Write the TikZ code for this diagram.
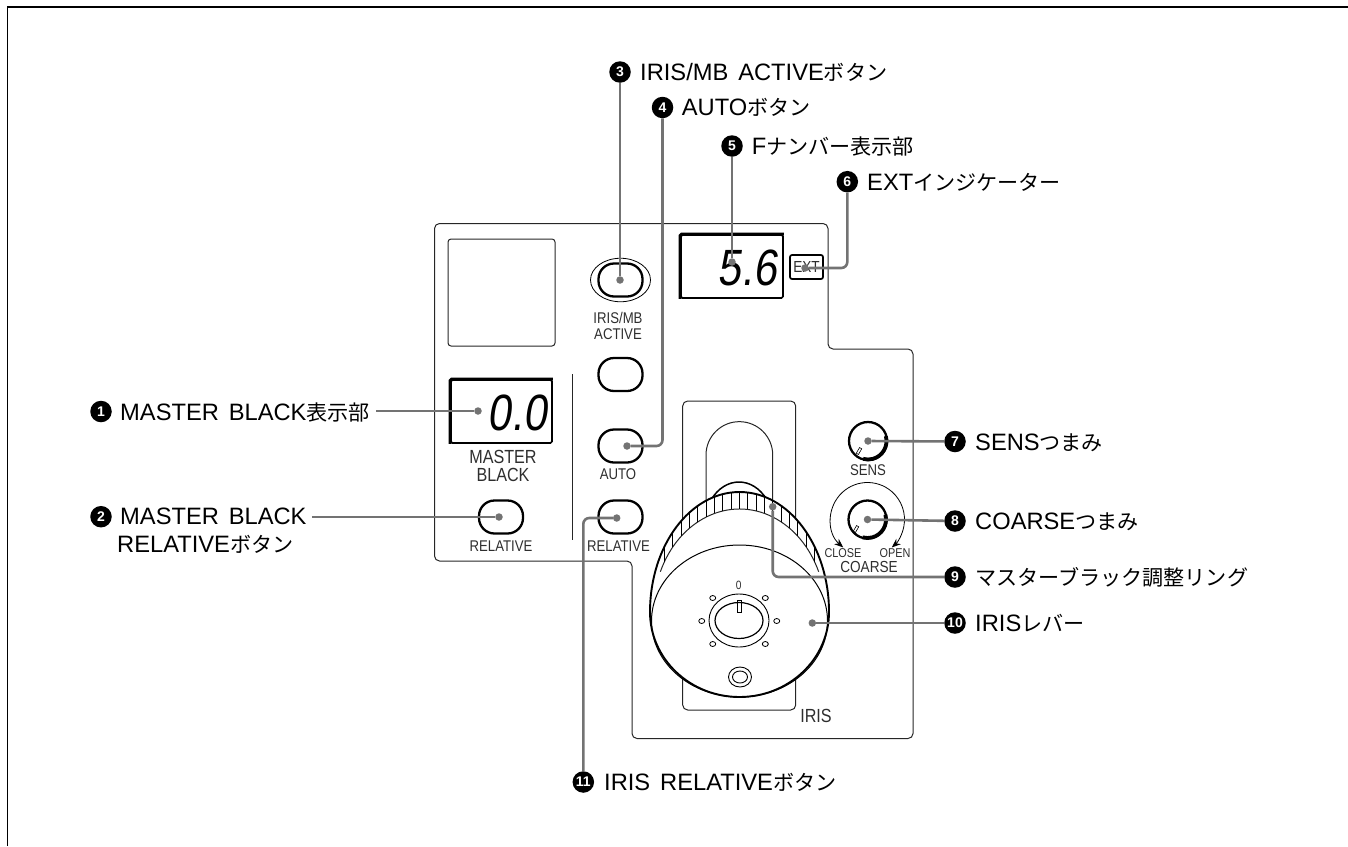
\documentclass[tikz,border=0pt]{standalone}
\usepackage{fontspec}
\setmainfont[WordSpace=1.5]{Liberation Sans}
\newfontfamily\cjk[Scale=0.89]{Noto Sans CJK JP}
\newfontfamily\panelfont[FakeStretch=0.85]{Liberation Sans}
\newfontfamily\lcdfont[FakeStretch=0.83,FakeSlant=0.14]{Liberation Sans}
\newcommand{\jp}[1]{{\cjk #1}}
\usetikzlibrary{arrows.meta,shapes.geometric}
\definecolor{leadgray}{HTML}{737373}
\definecolor{paneltext}{HTML}{2E2E2E}
\tikzset{
  panelline/.style={line width=1pt,black!85},
  pushbtn/.style={draw,rectangle,rounded corners=15.5pt,minimum width=44pt,minimum height=33pt,inner sep=0pt,line width=2.3pt},
  lcdframe/.style={draw,rectangle,rounded corners=1.5pt,inner sep=0pt,line width=1.7pt},
  lcdtext/.style={inner sep=0pt,anchor=base east,font=\lcdfont\fontsize{51}{51}\selectfont},
  paneltxt/.style={inner sep=0pt,align=center,text=paneltext,font=\panelfont\fontsize{15.5}{16.5}\selectfont},
  bigtxt/.style={paneltxt,font=\panelfont\fontsize{19}{18.5}\selectfont},
  tinytxt/.style={paneltxt,font=\panelfont\fontsize{12.8}{14}\selectfont},
  knobring/.style={draw,circle,minimum size=38pt,inner sep=0pt,line width=2.3pt},
  knobmark/.style={draw,rectangle,minimum width=2.5pt,minimum height=6.5pt,inner sep=0pt,line width=.6pt,rotate=-30},
  numcirc/.style={circle,fill=black,text=white,minimum size=21.5pt,inner sep=0pt,font=\bfseries\fontsize{14}{14}\selectfont},
  numlabel/.style={inner sep=0pt,anchor=base west,font=\fontsize{23.7}{27.7}\selectfont},
  leadline/.style={draw=leadgray,line width=2.6pt},
  leaddot/.style={circle,fill=leadgray,minimum size=7.5pt,inner sep=0pt},
  holedot/.style={draw,ellipse,minimum width=6pt,minimum height=5pt,inner sep=0pt,line width=.8pt},
}
\begin{document}
\begin{tikzpicture}[x=1pt,y=-1pt]
\useasboundingbox (0,0) rectangle (1348,846);
\draw [line width=1.6pt] (7.5,846) -- (7.5,7) -- (1348,7);

\draw [panelline,rounded corners=5pt] (434.5,223.5) -- (828,223.5) -- (828,349) -- (913,349) -- (913,738.5) -- (632,738.5) -- (632,561) -- (434.5,561) -- cycle;
\draw [panelline,rounded corners=3pt] (448,239) rectangle (555,346);
\draw [panelline] (572.5,374) -- (572.5,540);

\node (ringactive) [draw,ellipse,minimum width=60pt,minimum height=43.5pt,inner sep=0pt,line width=.8pt] at (620.5,280) {};
\node (btnactive) [pushbtn] at (620.5,280) {};
\node (btnblank) [pushbtn] at (620.5,374.5) {};
\node (btnauto) [pushbtn] at (620.5,446) {};
\node (btnrelative) [pushbtn] at (620.5,517) {};
\node (btnmaster) [pushbtn] at (501,517) {};
\node (txtactive) [paneltxt] at (618,326) {IRIS/MB\\ACTIVE};
\node (txtauto) [paneltxt] at (618,474) {AUTO};
\node (txtrelative) [paneltxt] at (618.5,546) {RELATIVE};
\node (txtmasterrel) [paneltxt] at (501,546) {RELATIVE};
\node (txtmaster) [bigtxt] at (503,466) {MASTER\\BLACK};

\node (lcdmaster) [lcdframe,minimum width=101pt,minimum height=63pt] at (501.5,411.5) {};
\draw [line width=3pt,rounded corners=1.5pt] (lcdmaster.south west) |- (lcdmaster.north east);
\node (lcdmastertxt) [lcdtext] at (547,430) {0.0};
\node (lcdiris) [lcdframe,minimum width=102pt,minimum height=63pt] at (732,266.5) {};
\draw [line width=3pt,rounded corners=1.5pt] (lcdiris.south west) |- (lcdiris.north east);
\node (lcdiristxt) [lcdtext] at (777,285.5) {5.6};
\node (extbox) [draw,rectangle,rounded corners=2pt,minimum width=33pt,minimum height=24pt,inner sep=0pt,line width=1.7pt,text=paneltext,font=\panelfont\fontsize{16}{16}\selectfont] at (806.5,267) {EXT};

\node (knobsens) [knobring] at (868,441) {};
\draw [line width=3.8pt] (868,441) ++(-15:18.5) arc[start angle=-15,end angle=105,radius=18.5];
\node (marksens) [knobmark] at (859,451) {};
\node (txtsens) [paneltxt] at (868,470) {SENS};
\draw [line width=.8pt,{Stealth[length=9pt,width=7pt]}-{Stealth[length=9pt,width=7pt]}] (867.5,519.5) ++(131:37) arc[start angle=131,end angle=409,radius=37];
\node (knobcoarse) [knobring] at (867.5,519.5) {};
\draw [line width=3.8pt] (867.5,519.5) ++(-15:18.5) arc[start angle=-15,end angle=105,radius=18.5];
\node (markcoarse) [knobmark] at (856,529) {};
\node (txtclose) [tinytxt] at (843,553) {CLOSE};
\node (txtopen) [tinytxt] at (895,553) {OPEN};
\node (txtcoarse) [paneltxt,font=\panelfont\fontsize{16}{16}\selectfont] at (869,567) {COARSE};

\draw [panelline,rounded corners=5pt] (682.7,401) rectangle (795.7,710);
\draw [panelline] (706,500) -- (706,455) arc[start angle=180,end angle=360,radius=33.35] -- (772.7,500);
\draw [line width=1.5pt] (711,500) .. controls (725,476) and (753,476) .. (767,500);
\draw [fill=white,line width=1.9pt] (650,612) arc[start angle=180,end angle=360,x radius=89.5,y radius=120] arc[start angle=0,end angle=180,x radius=89.5,y radius=85];
\draw [panelline] (739.5,612) ++(203:86 and 103) arc[start angle=203,end angle=337,x radius=86,y radius=103];
\foreach \k in {-9,...,9}{
  \pgfmathsetmacro{\tickx}{739.3+\k*8.33}
  \pgfmathsetmacro{\ticktop}{612-120*sqrt(1-(\k*8.33/89.5)^2)}
  \pgfmathsetmacro{\tickbot}{612-103*sqrt(1-(\k*8.33/86)^2)}
  \draw [line width=.8pt] (\tickx,\ticktop) -- (\tickx,\tickbot);
}
\draw [line width=1pt] (739.5,621) ellipse[x radius=88,y radius=76];
\draw [line width=.9pt] (739,620.5) ellipse[x radius=30,y radius=26.5];
\draw [line width=1.2pt] (739,620.5) ellipse[x radius=24,y radius=18];
\draw [line width=.8pt] (737.3,600.7) rectangle (741.7,612.3);
\node (holea) [holedot] at (712.7,598) {};
\node (holeb) [holedot] at (765.3,598) {};
\node (holec) [holedot] at (701.7,621) {};
\node (holed) [holedot] at (776.7,621) {};
\node (holee) [holedot] at (712.7,644) {};
\node (holef) [holedot] at (765.3,644) {};
\node (txtzero) [paneltxt,font=\panelfont\fontsize{12}{12}\selectfont] at (738.7,585.7) {0};
\draw [line width=.9pt] (740,677) ellipse[x radius=11.5,y radius=10];
\draw [line width=.9pt] (740,677) ellipse[x radius=7.5,y radius=6];
\node (txtiris) [bigtxt] at (816,716) {IRIS};

\node (numone) [numcirc] at (101,411.5) {1};
\node (labone) [numlabel] at (120,420) {MASTER BLACK\jp{表示部}};
\node (numtwo) [numcirc] at (101,516.7) {2};
\node (labtwo) [numlabel,anchor=west,align=left] at (117,531) {\hspace*{3pt}MASTER BLACK\\RELATIVE\jp{ボタン}};
\node (numthree) [numcirc] at (620,72) {3};
\node (labthree) [numlabel] at (640,80) {IRIS/MB ACTIVE\jp{ボタン}};
\node (numfour) [numcirc] at (662.5,107.5) {4};
\node (labfour) [numlabel] at (681.7,115) {AUTO\jp{ボタン}};
\node (numfive) [numcirc] at (732,146) {5};
\node (labfive) [numlabel] at (751.7,154) {F\jp{ナンバー表示部}};
\node (numsix) [numcirc] at (847.3,181.7) {6};
\node (labsix) [numlabel] at (867,190) {EXT\jp{インジケーター}};
\node (numseven) [numcirc] at (955,441.5) {7};
\node (labseven) [numlabel] at (975,450) {SENS\jp{つまみ}};
\node (numeight) [numcirc] at (955,521) {8};
\node (labeight) [numlabel] at (975,529) {COARSE\jp{つまみ}};
\node (numnine) [numcirc] at (955,577) {9};
\node (labnine) [numlabel] at (975,585) {\jp{マスターブラック調整リング}};
\node (numten) [numcirc] at (955,623) {10};
\node (labten) [numlabel] at (975,631.5) {IRIS\jp{レバー}};
\node (numeleven) [numcirc] at (583.3,782) {11};
\node (labeleven) [numlabel] at (604,790) {IRIS RELATIVE\jp{ボタン}};

\node (dotone) [leaddot] at (478,411) {};
\node (dottwo) [leaddot] at (499,517) {};
\node (dotthree) [leaddot] at (620,280) {};
\node (dotfour) [leaddot] at (627,446) {};
\node (dotfive) [leaddot] at (732,262) {};
\node (dotsix) [leaddot] at (805,268) {};
\node (dotseven) [leaddot] at (868,441) {};
\node (doteight) [leaddot] at (867.5,519.5) {};
\node (dotnine) [leaddot] at (772.7,506.7) {};
\node (dotten) [leaddot] at (812.3,623) {};
\node (doteleven) [leaddot] at (616.7,518) {};

\draw [leadline] ([xshift=6pt]labone.east |- dotone) -- (dotone);
\draw [leadline] ([xshift=5pt]labtwo.east |- dottwo) -- (dottwo);
\draw [leadline] (numthree) -- (dotthree);
\draw [leadline,rounded corners=6pt] (numfour) |- (dotfour);
\draw [leadline] (numfive) -- (dotfive);
\draw [leadline,rounded corners=6pt] (numsix) |- (dotsix);
\draw [leadline] (numseven) -- (dotseven);
\draw [leadline] (numeight) -- (doteight);
\draw [leadline,rounded corners=6pt] (dotnine) |- (numnine);
\draw [leadline] (numten) -- (dotten);
\draw [leadline,rounded corners=6pt] (numeleven) |- (doteleven);
\end{tikzpicture}
\end{document}
